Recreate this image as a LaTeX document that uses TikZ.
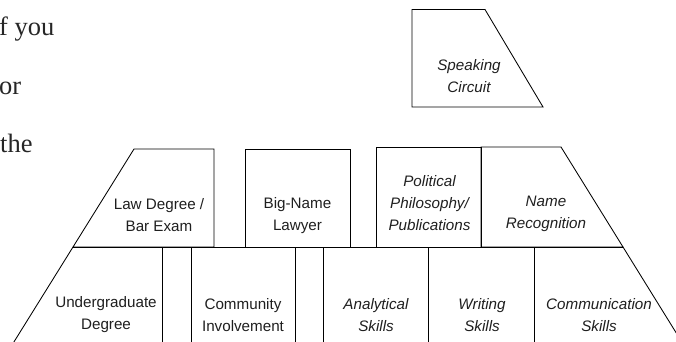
\documentclass[tikz,border=0pt]{standalone}
\usepackage{fontspec}
\setmainfont{Liberation Serif}
\setsansfont{Liberation Sans}
\begin{document}
\begin{tikzpicture}[x=1pt,y=-1pt,
  edge/.style={draw=black, line width=0.85pt, line join=miter},
  cellText/.style={font=\sffamily\fontsize{15.2}{22}\selectfont, align=center, inner sep=0pt, text=black!88},
  cellTextIt/.style={cellText, font=\sffamily\itshape\fontsize{15.2}{22}\selectfont},
  prose/.style={font=\rmfamily\fontsize{26.5}{26}\selectfont, anchor=base west, inner sep=0pt, text=black!85}]
\useasboundingbox (0,0) rectangle (676,341);
\clip (0,0) rectangle (676,341);

% running text beside the figure
\node[prose] (p1) at (-1,35) {f you};
\node[prose] (p2) at (-1,94) {or};
\node[prose] (p3) at (0,152) {the};

% speaking circuit
\coordinate (spTL) at (412,9.5);
\coordinate (spTR) at (485,9.5);
\coordinate (spBR) at (543,107);
\coordinate (spBL) at (412,107);
\draw[edge] (spTL) -- (spTR) -- (spBR) -- (spBL) -- cycle;
\node[cellTextIt] (spk) at (469,76) {Speaking\\Circuit};

% upper tier
\coordinate (lawTL) at (134,149);
\coordinate (lawTR) at (214,149);
\coordinate (lawBR) at (214,247);
\coordinate (lawBL) at (73,247);
\coordinate (namTL) at (481,147);
\coordinate (namTR) at (561,147);
\coordinate (namBR) at (623,247);
\coordinate (namBL) at (481,247);
\draw[edge] (lawTL) -- (lawTR) -- (lawBR) -- (lawBL) -- cycle;
\draw[edge] (245,149) rectangle (350,247);
\draw[edge] (376,147) rectangle (481,247);
\draw[edge] (namTL) -- (namTR) -- (namBR) -- (namBL) -- cycle;

\node[cellText] (law) at (159,215.5) {Law Degree /\\Bar Exam};
\node[cellText] (big) at (297.5,215.5) {Big-Name\\Lawyer};
\node[cellTextIt] (pol) at (429.5,203.5) {Political\\Philosophy/\\Publications};
\node[cellTextIt] (nam) at (546,214) {Name\\Recognition};

% lower tier
\coordinate (lowL) at (2.7,360);
\coordinate (lowR) at (693,360);
\draw[edge] (lawBL) -- (namBR);
\draw[edge] (lawBL) -- (lowL);
\draw[edge] (namBR) -- (lowR);
\foreach \xv in {162,191,295,323,428,534}
  \draw[edge] (\xv,247) -- (\xv,360);

\node[cellText] (und) at (106,315) {Undergraduate\\Degree};
\node[cellText] (com) at (243,315) {Community\\Involvement};
\node[cellTextIt] (ana) at (376,315) {Analytical\\Skills};
\node[cellTextIt] (wri) at (482,315) {Writing\\Skills};
\node[cellTextIt] (cmm) at (599,315) {Communication\\Skills};
\end{tikzpicture}
\end{document}
